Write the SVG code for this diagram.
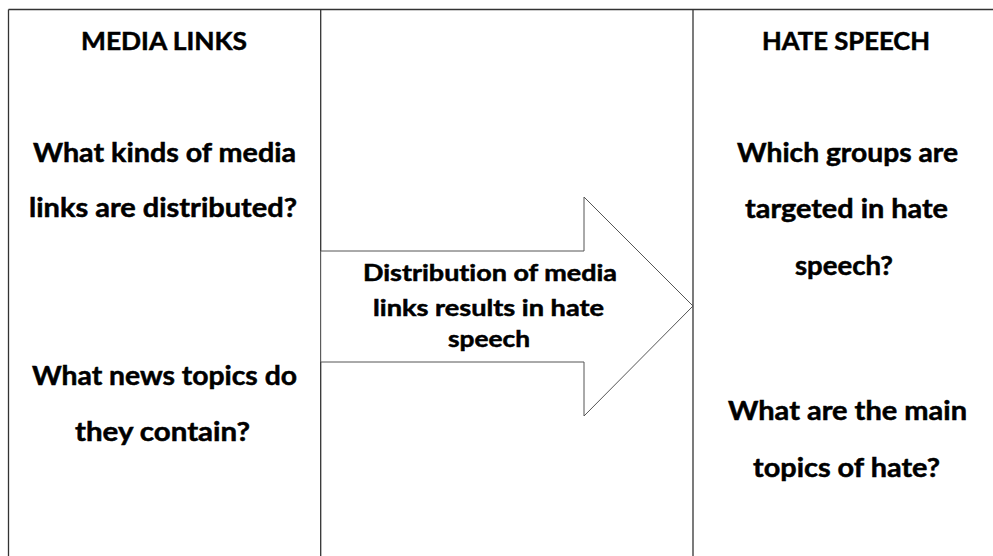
<svg xmlns="http://www.w3.org/2000/svg" width="993" height="556" viewBox="0 0 993 556">
<style>
  .grid { stroke: #333; stroke-width: 1.3; fill: none; }
  .arrow { stroke: #555; stroke-width: 1; fill: #fff; }
  text { font-family: Lato, "Open Sans", "Liberation Sans", sans-serif; font-weight: bold; fill: #000; stroke: #000; stroke-width: 0.5; text-anchor: middle; font-variant-ligatures: none; }
  .h { font-size: 25px; }
  .q { font-size: 26.5px; }
  .m { font-size: 22px; }
</style>
<rect width="993" height="556" fill="#fff"/>
<g id="table" class="grid">
  <line x1="8.5" y1="9.5" x2="993" y2="9.5"/>
  <line x1="8.5" y1="9.5" x2="8.5" y2="556"/>
  <line x1="320.7" y1="9.5" x2="320.7" y2="556"/>
  <line x1="693" y1="9.5" x2="693" y2="556"/>
</g>
<g id="media-links">
  <text class="h" x="164" y="50" textLength="166" lengthAdjust="spacingAndGlyphs">MEDIA LINKS</text>
  <text class="q" x="164.5" y="162" textLength="263" lengthAdjust="spacingAndGlyphs">What kinds of media</text>
  <text class="q" x="163" y="217" textLength="268" lengthAdjust="spacingAndGlyphs">links are distributed?</text>
  <text class="q" x="164.5" y="385" textLength="265" lengthAdjust="spacingAndGlyphs">What news topics do</text>
  <text class="q" x="162.5" y="441" textLength="175" lengthAdjust="spacingAndGlyphs">they contain?</text>
</g>
<g id="connectors">
  <g id="arrow">
    <polygon class="arrow" points="320.7,251 584,251 584,197 693,306 584,416 584,362 320.7,362"/>
    <text class="m" x="490" y="281" textLength="254" lengthAdjust="spacingAndGlyphs">Distribution of media</text>
    <text class="m" x="488.5" y="316" textLength="231" lengthAdjust="spacingAndGlyphs">links results in hate</text>
    <text class="m" x="489" y="347" textLength="82" lengthAdjust="spacingAndGlyphs">speech</text>
  </g>
</g>
<g id="hate-speech">
  <text class="h" x="846" y="50" textLength="168" lengthAdjust="spacingAndGlyphs">HATE SPEECH</text>
  <text class="q" x="847.5" y="162" textLength="221" lengthAdjust="spacingAndGlyphs">Which groups are</text>
  <text class="q" x="846.5" y="218" textLength="203" lengthAdjust="spacingAndGlyphs">targeted in hate</text>
  <text class="q" x="844" y="275" textLength="98" lengthAdjust="spacingAndGlyphs">speech?</text>
  <text class="q" x="847.5" y="420" textLength="239" lengthAdjust="spacingAndGlyphs">What are the main</text>
  <text class="q" x="846.5" y="477" textLength="187" lengthAdjust="spacingAndGlyphs">topics of hate?</text>
</g>
</svg>
